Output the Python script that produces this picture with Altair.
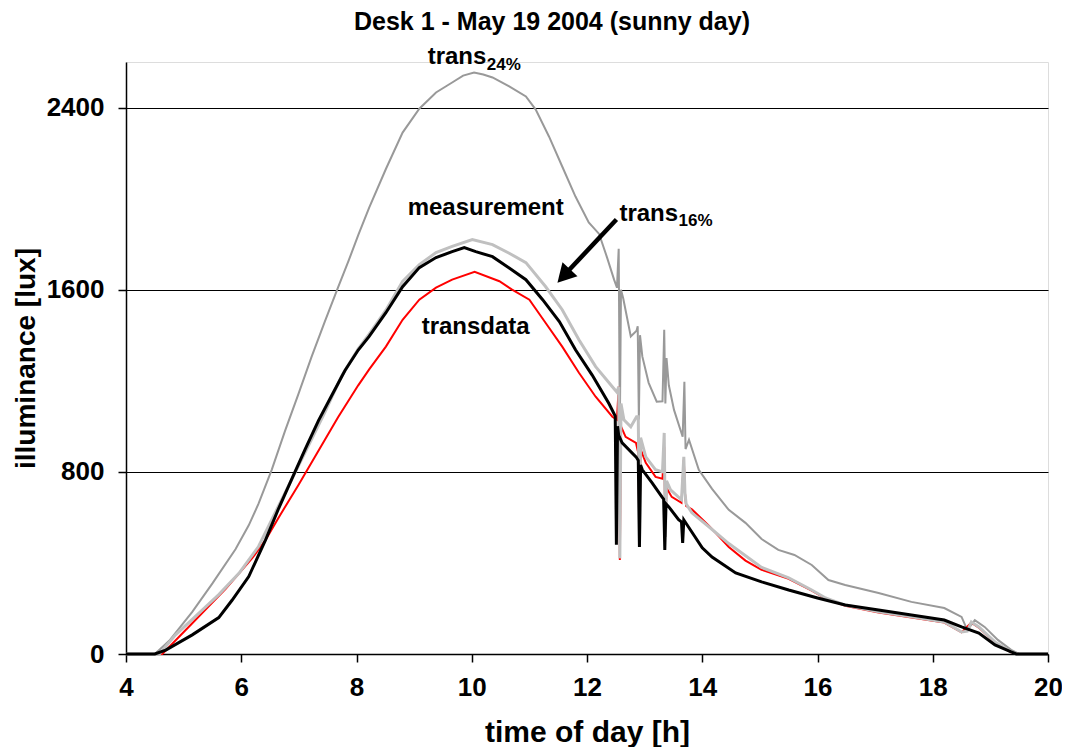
import altair as alt
import pandas as pd

# ---------------- data ----------------
# trans24% (medium grey)
t24_t = [4.0, 4.5, 4.75, 5.15, 5.5, 5.9, 6.13, 6.3, 6.53, 6.76, 6.99, 7.22, 7.45, 7.68, 7.86, 8.03,
         8.22, 8.51, 8.8, 9.09, 9.38, 9.66, 9.85, 10.04, 10.2, 10.36, 10.65, 10.94, 11.11, 11.34,
         11.57, 11.8, 12.03, 12.21, 12.35, 12.47, 12.52, 12.55, 12.57, 12.59, 12.63, 12.76, 12.86,
         12.88, 12.90, 12.92, 12.96, 13.07, 13.21, 13.31, 13.34, 13.36, 13.38, 13.42, 13.51, 13.66,
         13.69, 13.71, 13.77, 13.94, 14.17, 14.46, 14.75, 15.03, 15.32, 15.6, 15.9, 16.19, 16.48,
         17.06, 17.63, 18.2, 18.5, 18.6, 18.73, 18.9, 19.13, 19.36, 19.5, 20.0]
t24_v = [0, 0, 58, 185, 310, 460, 565, 660, 810, 980, 1140, 1305, 1460, 1610, 1725, 1840,
         1960, 2130, 2290, 2395, 2466, 2510, 2540, 2554, 2545, 2532, 2493, 2449, 2391, 2273,
         2141, 2009, 1895, 1845, 1740, 1644, 1609, 1780, 1000, 1600, 1560, 1395, 1420,
         1439, 1030, 1400, 1307, 1191, 1108, 1110, 1424, 1100, 1300, 1180, 1072, 954,
         1196, 900, 941, 809, 725, 633, 576, 505, 457, 435, 391, 325, 303,
         268, 229, 202, 163, 105, 149, 119, 62, 18, 0, 0]

# measurement (black)
meas_t = [4.0, 4.5, 4.69, 5.15, 5.61, 5.84, 6.13, 6.42, 6.65, 6.88, 7.11, 7.34, 7.57, 7.8, 8.03,
          8.22, 8.51, 8.8, 9.09, 9.38, 9.66, 9.87, 10.07, 10.36, 10.65, 10.94, 11.23, 11.52, 11.8,
          12.09, 12.38, 12.49, 12.51, 12.53, 12.55, 12.61, 12.85, 12.89, 12.91, 12.93, 12.96,
          13.13, 13.3, 13.33, 13.35, 13.37, 13.42, 13.59, 13.64, 13.66, 13.68, 13.73, 14.0, 14.17,
          14.58, 15.03, 15.5, 16.0, 16.48, 17.06, 17.63, 18.2, 18.5, 18.8, 19.08, 19.36, 19.45, 20.0]
meas_v = [0, 0, 17, 84, 160, 236, 340, 500, 640, 770, 900, 1025, 1135, 1245, 1335,
          1395, 1499, 1613, 1697, 1741, 1767, 1785, 1767, 1745, 1695, 1644, 1556, 1460, 1336,
          1225, 1100, 1045, 480, 1000, 960, 927, 866, 850, 470, 830, 809,
          752, 690, 680, 457, 660, 646, 590, 580, 488, 589, 570, 466, 426,
          356, 317, 281, 246, 215, 193, 171, 149, 119, 92, 40, 9, 0, 0]

# trans16% (light grey)
t16_t = [4.0, 4.58, 4.86, 5.15, 5.61, 5.96, 6.3, 6.53, 6.76, 6.99, 7.22, 7.45, 7.74, 8.03, 8.22,
         8.51, 8.8, 9.09, 9.38, 9.66, 10.01, 10.36, 10.65, 10.94, 11.28, 11.57, 11.86, 12.15,
         12.44, 12.52, 12.55, 12.57, 12.59, 12.64, 12.76, 12.86, 12.89, 12.91, 12.93, 13.02,
         13.19, 13.31, 13.34, 13.36, 13.38, 13.45, 13.64, 13.68, 13.70, 13.72, 13.82, 14.11,
         14.46, 15.03, 15.5, 15.9, 16.14, 16.48, 17.06, 17.63, 18.2, 18.5, 18.6, 18.67, 18.8,
         19.08, 19.36, 19.5, 20.0]
t16_v = [0, 0, 84, 152, 261, 354, 472, 590, 708, 825, 943, 1061, 1220, 1340, 1405,
         1510, 1636, 1710, 1763, 1790, 1820, 1798, 1760, 1719, 1614, 1512, 1380, 1262,
         1174, 1150, 1174, 420, 1100, 1029, 998, 1042, 1042, 470, 950, 866,
         809, 800, 971, 514, 760, 721, 677, 866, 708, 660, 620, 560,
         485, 380, 334, 281, 246, 215, 185, 163, 141, 97, 100, 141, 119,
         53, 9, 0, 0]

# transdata (red)
td_t = [4.0, 4.63, 5.15, 5.73, 6.19, 6.42, 6.65, 6.99, 7.34, 7.68, 8.03, 8.22, 8.51, 8.8, 9.09,
        9.38, 9.66, 10.05, 10.48, 10.7, 11.0, 11.28, 11.57, 11.86, 12.15, 12.44, 12.52, 12.55,
        12.57, 12.59, 12.67, 12.85, 12.89, 12.91, 12.93, 13.02, 13.19, 13.31, 13.34, 13.36, 13.38,
        13.47, 13.64, 13.68, 13.70, 13.72, 13.82, 14.11, 14.46, 14.75, 15.03, 15.5, 15.9, 16.14,
        16.48, 17.06, 17.63, 18.2, 18.5, 18.67, 18.8, 19.08, 19.36, 19.5, 20.0]
td_v = [0, 0, 135, 286, 421, 500, 600, 741, 893, 1040, 1180, 1250, 1350, 1468, 1556,
        1609, 1644, 1679, 1637, 1600, 1556, 1455, 1350, 1235, 1130, 1042, 1029, 1174,
        413, 1000, 954, 927, 883, 488, 900, 840, 778, 770, 910, 532, 730,
        690, 664, 853, 708, 650, 635, 565, 470, 410, 370, 330, 278, 243,
        212, 182, 160, 138, 95, 138, 116, 50, 7, 0, 0]

x_ticks = [4, 6, 8, 10, 12, 14, 16, 18, 20]
y_ticks = [0, 800, 1600, 2400]

# annotation labels (data coordinates)
lab_text = ["trans", "24%", "measurement", "transdata", "trans", "16%"]
lab_t = [9.235, 10.26, 8.888, 9.131, 12.563, 13.59]
lab_v = [2591, 2566, 1928, 1405, 1902, 1878]
lab_fs = [24, 17, 24, 24, 24, 17]

arrow_t = [12.511]
arrow_v = [1908]
arrow_t2 = [11.62]
arrow_v2 = [1668]
head_t = [11.608]
head_v = [1663]

FONT = "Liberation Sans"


def series_df(t, v):
    return pd.DataFrame({"t": t, "v": v})


xs = alt.Scale(domain=[4, 20], nice=False, zero=False)
ys = alt.Scale(domain=[0, 2600], nice=False)

x_enc = alt.X("t:Q", scale=xs, axis=alt.Axis(
    values=x_ticks, format="d", title="time of day [h]", grid=False, tickSize=8,
    labelFontSize=26, labelFont=FONT, labelFontWeight="bold", labelColor="black",
    labelPadding=12, titleFontSize=30, titleFont=FONT, titleFontWeight="bold",
    titleColor="black", titlePadding=17, domainColor="black", tickColor="black",
    domainWidth=1.5, tickWidth=1.5, labelFlush=False))
y_enc = alt.Y("v:Q", scale=ys, axis=alt.Axis(
    values=y_ticks, format="d", title="illuminance [lux]", grid=True, gridColor="black",
    gridOpacity=1, gridWidth=1, tickSize=8, labelFontSize=26, labelFont=FONT,
    labelFontWeight="bold", labelColor="black", labelPadding=14, titleFontSize=28,
    titleFont=FONT, titleFontWeight="bold", titleColor="black", titlePadding=6,
    domainColor="black", tickColor="black", domainWidth=1.5, tickWidth=1.5))

base_x = alt.X("t:Q", scale=xs)
base_y = alt.Y("v:Q", scale=ys)

l24 = alt.Chart(series_df(t24_t, t24_v)).mark_line(color="#999999", strokeWidth=2).encode(x=x_enc, y=y_enc)
ltd = alt.Chart(series_df(td_t, td_v)).mark_line(color="#ff0000", strokeWidth=2).encode(x=base_x, y=base_y)
l16 = alt.Chart(series_df(t16_t, t16_v)).mark_line(color="#c0c0c0", strokeWidth=3).encode(x=base_x, y=base_y)
lme = alt.Chart(series_df(meas_t, meas_v)).mark_line(color="#000000", strokeWidth=3).encode(x=base_x, y=base_y)

labels = alt.Chart(pd.DataFrame({"t": lab_t, "v": lab_v, "label": lab_text, "fs": lab_fs})).mark_text(
    align="left", baseline="alphabetic", font=FONT, fontWeight="bold", color="black"
).encode(x=base_x, y=base_y, text="label:N", size=alt.Size("fs:Q", scale=None, legend=None))

shaft = alt.Chart(pd.DataFrame({"t": arrow_t, "v": arrow_v, "t2": arrow_t2, "v2": arrow_v2})).mark_rule(
    color="black", strokeWidth=4.5
).encode(x=base_x, y=base_y, x2="t2:Q", y2="v2:Q")

head = alt.Chart(pd.DataFrame({"t": head_t, "v": head_v})).mark_point(
    shape="M0,-1L1,0.8L-1,0.8Z", filled=True, size=420, angle=223, color="black", opacity=1,
    strokeWidth=0
).encode(x=base_x, y=base_y)

chart = alt.layer(l24, ltd, l16, lme, labels, shaft, head).properties(
    width=922, height=592,
    title=alt.TitleParams("Desk 1 - May 19 2004 (sunny day)", fontSize=25, font=FONT,
                          fontWeight="bold", color="black", anchor="middle", dx=-35,
                          offset=10),
    autosize=alt.AutoSizeParams(type="none"),
    padding={"left": 118, "top": 54, "right": 14, "bottom": 93},
).configure_view(stroke=None).configure(background="white")

chart.save("out.html", embed_options={"renderer": "svg", "actions": False})
